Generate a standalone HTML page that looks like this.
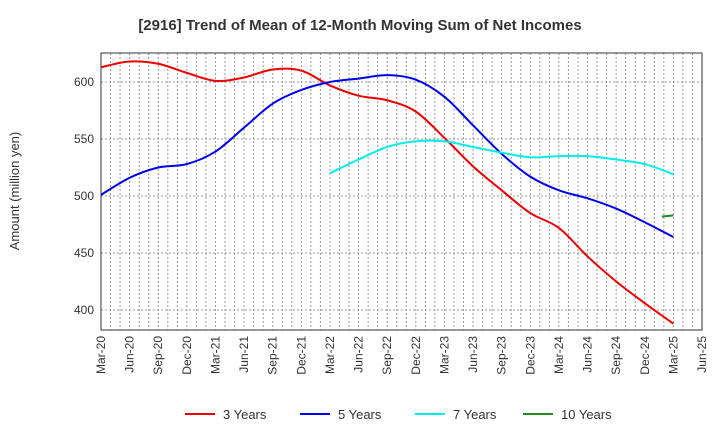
<!DOCTYPE html>
<html><head><meta charset="utf-8"><style>
body{margin:0;background:#fff;font-family:"Liberation Sans",sans-serif}
</style></head><body>
<svg id="c" width="720" height="440" xmlns="http://www.w3.org/2000/svg">
<text x="360" y="30" text-anchor="middle" font-size="15" font-weight="bold" fill="#333">[2916]  Trend of Mean of 12-Month Moving Sum of Net Incomes</text>
<text x="19" y="191" transform="rotate(-90 19 191)" text-anchor="middle" font-size="13" fill="#333">Amount (million yen)</text>
<g id="grid"></g><g id="axes"></g><g id="series"></g><g id="legend"></g>
</svg>
<script>
const xLabels=["Mar-20","Jun-20","Sep-20","Dec-20","Mar-21","Jun-21","Sep-21","Dec-21","Mar-22","Jun-22","Sep-22","Dec-22","Mar-23","Jun-23","Sep-23","Dec-23","Mar-24","Jun-24","Sep-24","Dec-24","Mar-25","Jun-25"];
const yTicks=[400,450,500,550,600];
const seriesNames=["3 Years","5 Years","7 Years","10 Years"];
const seriesColors=["#ee0000","#0000ee","#00eeee","#228b22"];
const y3=[613,618,616,608,601,604,611,610,597,588,584,574,551,526,505,485,472,447,425,406,388];
const y5=[501,516,525,528,539,560,581,593,600,603,606,602,587,562,537,517,505,498,489,477,464];
const y7=[520,532,543,548,548,543,538,534,535,535,532,528,519];
const y7start=8;
const y10=[482,483];
const x10=[19.6,20];
const NS="http://www.w3.org/2000/svg";
const L=101,R=702,T=53,B=330;
const X=i=>L+(R-L)*i/21;
const Y=v=>82+(600-v)*57/50;
function mk(t,a,p){const e=document.createElementNS(NS,t);for(const k in a)e.setAttribute(k,a[k]);p.appendChild(e);return e;}
const g=document.getElementById('grid'),ax=document.getElementById('axes'),s=document.getElementById('series'),lg=document.getElementById('legend');
for(let m=1;m<63;m++){const x=L+(R-L)*m/63;const l=mk('line',{x1:x,x2:x,y1:T,y2:B,stroke:'#999','stroke-dasharray':'2,2','stroke-width':1},g);}
yTicks.forEach(v=>{const l=mk('line',{x1:L,x2:R,y1:Y(v),y2:Y(v),stroke:'#999','stroke-dasharray':'2,2'},g);
const t=mk('text',{x:L-7,y:Y(v)+4,'text-anchor':'end','font-size':12,fill:'#333'},ax);t.textContent=v;});
const fr=mk('rect',{x:L,y:T,width:R-L,height:B-T,fill:'none',stroke:'#333'},ax);
xLabels.forEach((lab,i)=>{const x=X(i);const t=mk('text',{x:x+4,y:B+6,'text-anchor':'end','font-size':12,fill:'#333',transform:`rotate(-90 ${x+4} ${B+6})`},ax);t.textContent=lab;});
function path(pts){let d=`M${pts[0][0]},${pts[0][1]}`;for(let i=0;i<pts.length-1;i++){const p0=pts[i-1]||pts[i],p1=pts[i],p2=pts[i+1],p3=pts[i+2]||p2;
d+=` C${p1[0]+(p2[0]-p0[0])/6},${p1[1]+(p2[1]-p0[1])/6} ${p2[0]-(p3[0]-p1[0])/6},${p2[1]-(p3[1]-p1[1])/6} ${p2[0]},${p2[1]}`;}return d;}
const sets=[y3.map((v,i)=>[X(i),Y(v)]),y5.map((v,i)=>[X(i),Y(v)]),y7.map((v,i)=>[X(i+y7start),Y(v)]),y10.map((v,i)=>[X(x10[i]),Y(v)])];
const names=['series-3-years','series-5-years','series-7-years','series-10-years'];
sets.forEach((pts,k)=>{const p=mk('path',{d:path(pts),fill:'none',stroke:seriesColors[k],'stroke-width':2},s);});
const lx=[185,300,415,523];
seriesNames.forEach((n,k)=>{const e=mk('g',{},lg);
mk('line',{x1:lx[k],x2:lx[k]+30,y1:414,y2:414,stroke:seriesColors[k],'stroke-width':2},e);
const t=mk('text',{x:lx[k]+38,y:419,'font-size':13,fill:'#333'},e);t.textContent=n;});
</script>
</body></html>
